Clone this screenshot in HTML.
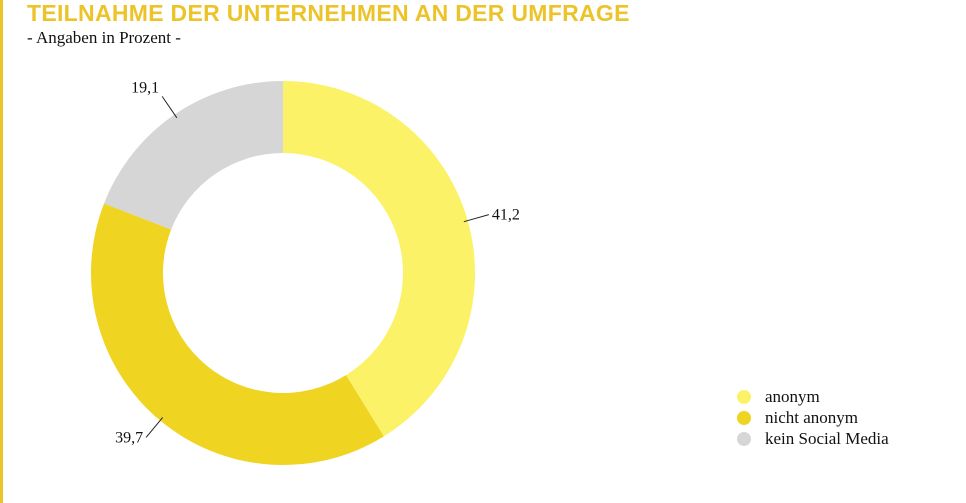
<!DOCTYPE html>
<html><head><meta charset="utf-8"><style>
body{margin:0;width:966px;height:503px;background:#fff;overflow:hidden;position:relative;font-family:"Liberation Serif",serif}
#bar{position:absolute;left:0;top:0;width:3px;height:503px;background:#ecc42a}
#title{position:absolute;left:27px;top:0px;font:bold 23px "Liberation Sans",sans-serif;color:#ecc42a;white-space:nowrap;letter-spacing:0.3px}
#sub{position:absolute;left:27px;top:28px;font-size:17px;color:#111}
</style></head><body>
<div id="bar"></div>
<div id="title">TEILNAHME DER UNTERNEHMEN AN DER UMFRAGE</div>
<div id="sub">- Angaben in Prozent -</div>
<svg id="chart" width="966" height="503" style="position:absolute;left:0;top:0"></svg>
<script>
const categories=["anonym","nicht anonym","kein Social Media"];
const values=[41.2,39.7,19.1];
const valueLabels=["41,2","39,7","19,1"];
const colors=["#fbf267","#efd422","#d6d6d6"];
const NS="http://www.w3.org/2000/svg";
const svg=document.getElementById('chart');
const cx=283,cy=273,R=192,r=120;
const total=values.reduce((a,b)=>a+b,0);
function pt(a,rad){return [cx+rad*Math.sin(a),cy-rad*Math.cos(a)];}
let acc=0;
values.forEach((v,i)=>{
  const a0=acc/total*2*Math.PI; acc+=v; const a1=acc/total*2*Math.PI;
  const large=(a1-a0)>Math.PI?1:0;
  const [x0,y0]=pt(a0,R),[x1,y1]=pt(a1,R),[x2,y2]=pt(a1,r),[x3,y3]=pt(a0,r);
  const p=document.createElementNS(NS,'path');
  p.setAttribute('d',`M${x0},${y0}A${R},${R} 0 ${large} 1 ${x1},${y1}L${x2},${y2}A${r},${r} 0 ${large} 0 ${x3},${y3}Z`);
  p.setAttribute('fill',colors[i]);
  
  
  svg.appendChild(p);
  const am=(a0+a1)/2;
  const [lx0,ly0]=pt(am,R-4),[lx1,ly1]=pt(am,R+22);
  const l=document.createElementNS(NS,'line');
  l.setAttribute('x1',lx0);l.setAttribute('y1',ly0);l.setAttribute('x2',lx1);l.setAttribute('y2',ly1);
  l.setAttribute('stroke','#222');l.setAttribute('stroke-width','1');
  
  
  svg.appendChild(l);
  const t=document.createElementNS(NS,'text');
  const right=Math.sin(am)>0;
  t.setAttribute('x',lx1+(right?3:-3));
  t.setAttribute('y',ly1+(Math.cos(am)>0.5?-4:5));
  t.setAttribute('text-anchor',right?'start':'end');
  t.setAttribute('font-size','16');t.setAttribute('fill','#111');
  t.setAttribute('font-family','"Liberation Serif",serif');
  t.textContent=valueLabels[i];
  
  
  svg.appendChild(t);
});
categories.forEach((c,i)=>{
  const y=397+i*21;
  const d=document.createElementNS(NS,'circle');
  d.setAttribute('cx',744);d.setAttribute('cy',y);d.setAttribute('r',7);d.setAttribute('fill',colors[i]);
  
  
  svg.appendChild(d);
  const t=document.createElementNS(NS,'text');
  t.setAttribute('x',765);t.setAttribute('y',y+5);t.setAttribute('font-size','17');
  t.setAttribute('font-family','"Liberation Serif",serif');t.setAttribute('fill','#111');
  t.textContent=c;
  
  
  svg.appendChild(t);
});
</script>
</body></html>
